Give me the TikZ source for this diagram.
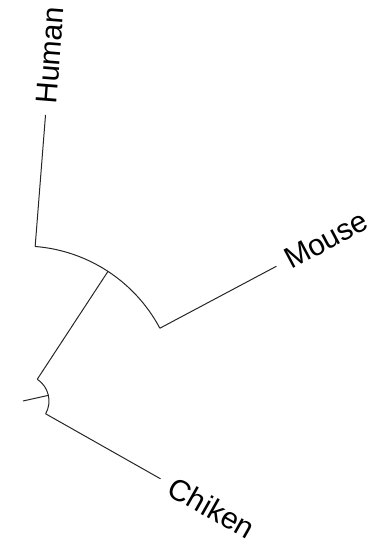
\documentclass[tikz,border=0pt]{standalone}
\usepackage{fontspec}
\setmainfont{Liberation Sans}
\begin{document}
\begin{tikzpicture}[x=1pt,y=1pt,
  branch/.style={line width=1pt, draw=black!85},
  lbl/.style={anchor=west, inner sep=0pt, font=\fontsize{30}{30}\selectfont}]
\useasboundingbox (0,0) rectangle (374,541);
\coordinate (C) at (23,140);
\coordinate (s0) at ([shift={(12.5:26)}]C);
\coordinate (sa) at ([shift={(-29.5:26)}]C);
\coordinate (sb) at ([shift={(56.75:26)}]C);
\coordinate (stemtop) at ([shift={(56.75:155)}]C);
\coordinate (ma) at ([shift={(28:155)}]C);
\coordinate (mb) at ([shift={(85.5:155)}]C);
\coordinate (htip) at ([shift={(85.5:287)}]C);
\coordinate (mtip) at ([shift={(28:287)}]C);
\coordinate (ctip) at ([shift={(-29.5:158)}]C);
\draw[branch] (C) -- (s0);
\draw[branch] (sa) arc[start angle=-29.5, end angle=56.75, radius=26];
\draw[branch] (sb) -- (stemtop);
\draw[branch] (ma) arc[start angle=28, end angle=85.5, radius=155];
\draw[branch] (mb) -- (htip);
\draw[branch] (ma) -- (mtip);
\draw[branch] (sa) -- (ctip);
\node[lbl, rotate=85.5] (human) at ([shift={(85.5:298)}]C) {Human};
\node[lbl, rotate=28] (mouse) at ([shift={(28:298)}]C) {Mouse};
\node[lbl, rotate=-29.5] (chiken) at ([shift={(-29.5:170)}]C) {Chiken};
\end{tikzpicture}
\end{document}
